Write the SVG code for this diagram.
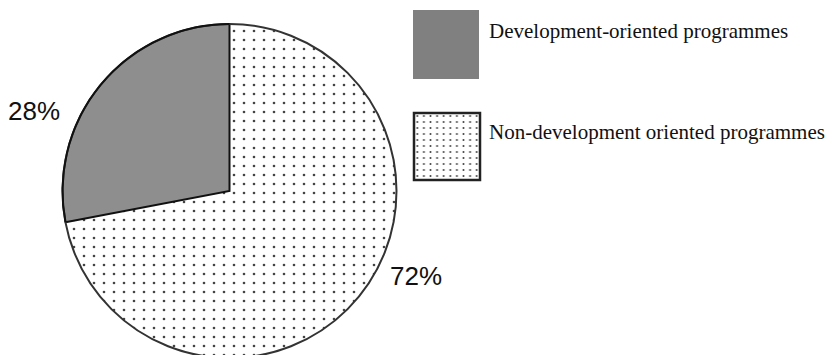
<svg xmlns="http://www.w3.org/2000/svg" width="832" height="355" viewBox="0 0 832 355">
  <style>
    .lbl { font-family: "Liberation Serif", "Times New Roman", serif; font-size: 21px; fill: #111; }
    .pct { font-family: "Liberation Sans", Arial, sans-serif; font-size: 26px; fill: #111; }
    .dark { fill: #8e8e8e; }
    .edge { fill: none; stroke: #111; stroke-width: 2; stroke-linejoin: miter; }
    .rim { fill: none; stroke: #333; stroke-width: 2; }
  </style>
  <defs>
    <pattern id="dots" x="0" y="0" width="10" height="9" patternUnits="userSpaceOnUse">
      <rect width="10" height="9" fill="#fff"/>
      <circle cx="4" cy="4" r="1.3" fill="#444"/>
    </pattern>
    <pattern id="dotsSmall" x="414" y="113" width="6.6" height="6" patternUnits="userSpaceOnUse">
      <rect width="6.6" height="6" fill="#fff"/>
      <circle cx="3.3" cy="3" r="1" fill="#444"/>
    </pattern>
  </defs>
  <rect width="832" height="355" fill="#fff"/>

  <g id="slice-non-development">
    <path d="M229.5,191 L229.5,24 A167,167 0 1 1 65.5,222.3 Z" fill="url(#dots)"/>
  </g>
  <g id="slice-development">
    <path d="M229.5,191 L229.5,24 A167,167 0 0 0 65.5,222.3 Z" class="dark"/>
    <path d="M229.5,24 L229.5,191 L65.5,222.3" class="edge"/>
  </g>
  <g id="pie-rim">
    <circle cx="229.5" cy="191" r="167" class="rim"/>
    <path d="M229.5,24 A167,167 0 0 0 65.5,222.3" class="edge"/>
  </g>

  <g id="label-28">
    <text x="8" y="120" class="pct">28%</text>
  </g>
  <g id="label-72">
    <text x="390" y="285" class="pct">72%</text>
  </g>

  <g id="legend-development">
    <rect x="413" y="10" width="66" height="69" fill="#808080"/>
    <text x="489" y="38" class="lbl">Development-oriented programmes</text>
  </g>
  <g id="legend-non-development">
    <rect x="414" y="113" width="66" height="67" fill="url(#dotsSmall)" stroke="#222" stroke-width="2.5"/>
    <text x="489" y="139" class="lbl">Non-development oriented programmes</text>
  </g>
</svg>
